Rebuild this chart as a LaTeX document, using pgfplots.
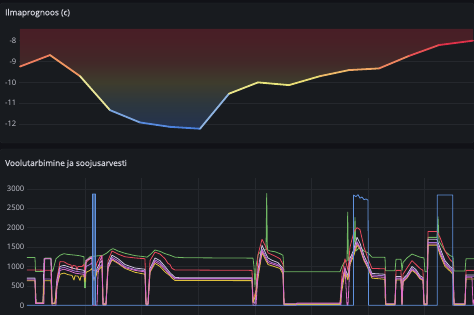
\documentclass[border=0pt]{standalone}
\usepackage{fontspec}
\setmainfont{Open Sans}
\newfontfamily\titlefont[FakeBold=0.6]{Open Sans}
\usepackage{pgfplots}
\pgfplotsset{compat=1.18}
\definecolor{pagebg}{HTML}{111217}
\definecolor{panelbg}{HTML}{181B1F}
\definecolor{panelborder}{HTML}{23262B}
\definecolor{gridc}{HTML}{25282D}
\definecolor{tickc}{HTML}{C8C9D3}
\definecolor{titlec}{HTML}{D4D5DE}
\definecolor{sgreen}{RGB}{112,184,100}
\definecolor{sred}{RGB}{232,72,92}
\definecolor{slav}{RGB}{205,192,222}
\definecolor{spurple}{RGB}{168,112,212}
\definecolor{syellow}{RGB}{222,192,60}
\definecolor{spink}{RGB}{222,110,200}
\definecolor{sblue}{RGB}{96,146,222}
\pgfdeclareverticalshading{tempfill}{100bp}{%
 rgb(0bp)=(0.137,0.196,0.314); rgb(25bp)=(0.137,0.196,0.314);
 rgb(37.8bp)=(0.176,0.216,0.243); rgb(48.2bp)=(0.243,0.235,0.176);
 rgb(58.7bp)=(0.259,0.157,0.157); rgb(69.1bp)=(0.282,0.125,0.149);
 rgb(75bp)=(0.282,0.118,0.149); rgb(100bp)=(0.282,0.118,0.149)}
\pgfplotsset{colormap={tempmap}{rgb255(0pt)=(70,125,220); rgb255(9.2pt)=(150,185,225);
 rgb255(17.2pt)=(235,230,150); rgb255(22.2pt)=(232,228,120); rgb255(28.2pt)=(240,170,100);
 rgb255(35.2pt)=(235,100,90); rgb255(42.2pt)=(220,40,70)}}
\begin{document}
\begin{tikzpicture}
\fill[pagebg] (0,0) rectangle (474pt,315pt);
\filldraw[fill=panelbg, draw=panelborder, rounded corners=2pt] (0.5pt,172pt) rectangle (473.5pt,312pt);
\filldraw[fill=panelbg, draw=panelborder, rounded corners=2pt] (0.5pt,-3pt) rectangle (473.5pt,166pt);
\node[anchor=base west, inner sep=0pt, text=titlec, font=\titlefont\fontsize{8.3}{10}\selectfont] at (5pt,299.7pt) {Ilmaprognoos (c)};
\node[anchor=base west, inner sep=0pt, text=titlec, font=\titlefont\fontsize{8.3}{10}\selectfont] at (5pt,149pt) {Voolutarbimine ja soojusarvesti};

\begin{axis}[at={(19pt,175pt)}, anchor=south west, scale only axis,
 width=455pt, height=111pt, xmin=19, xmax=474, ymin=-12.76, ymax=-7.44,
 axis line style={draw=none}, tick style={draw=none}, xtick=\empty,
 ytick={-12,-11,-10,-9,-8}, ymajorgrids, grid style={color=gridc, line width=0.6pt},
 yticklabel style={font=\fontsize{7.6}{8}\selectfont, text=tickc, inner sep=0pt, xshift=-2.5pt},
 /pgf/number format/assume math mode=true,
 colormap name=tempmap, point meta min=-12.22, point meta max=-8.0]
\addplot[draw=none, shade, shading=tempfill] coordinates {
 (20,-7.44) (20,-9.24) (50,-8.69) (80,-9.70) (110,-11.33) (140,-11.92) (170,-12.13)
 (200,-12.22) (229,-10.54) (258,-10.00) (289,-10.13) (320,-9.70) (349,-9.41)
 (379,-9.33) (409,-8.73) (439,-8.21) (473,-8.00) (473,-7.44)};
\addplot[mesh, point meta=y, line width=1.8pt, line cap=round, line join=round] coordinates {
 (20,-9.24) (50,-8.69) (80,-9.70) (110,-11.33) (140,-11.92) (170,-12.13)
 (200,-12.22) (229,-10.54) (258,-10.00) (289,-10.13) (320,-9.70) (349,-9.41)
 (379,-9.33) (409,-8.73) (439,-8.21) (473,-8.00)};
\end{axis}

\begin{axis}[at={(27pt,0pt)}, anchor=south west, scale only axis,
 width=447pt, height=137pt, xmin=27, xmax=474, ymin=-250, ymax=3280,
 axis line style={draw=none}, tick style={draw=none},
 xtick={85,141.6,198.2,254.8,311.4,368,424.6}, xticklabels={},
 ytick={0,500,1000,1500,2000,2500,3000}, xmajorgrids, ymajorgrids,
 grid style={color=gridc, line width=0.6pt},
 yticklabel style={font=\fontsize{7.6}{8}\selectfont, text=tickc, inner sep=0pt, xshift=-2.5pt},
 /pgf/number format/assume math mode=true, /pgf/number format/1000 sep={},
 every axis plot/.append style={line width=0.8pt, line join=round}]
% green
\addplot[sgreen] coordinates {
 (27,1230)(35,1230)(35.5,870)(44,870)(45,1220)(51,1220)(52,870)(53,900)(56,1200)(60,1290)
 (64,1330)(68,1310)(72,1300)(76,1290)(80,1275)(84,1250)(84.5,450)(85.5,450)(86,1150)
 (90,1250)(92,1260)(96,1270)(100,1280)(103,1290)(107,1350)(110,1420)(113,1460)(118,1400)
 (125,1340)(135,1280)(145,1250)(147,1240)(150,1300)(155,1425)(160,1390)(165,1330)
 (170,1290)(175,1240)(185,1225)(220,1220)(253,1215)(254,1000)(255,480)(256,1000)(258,1300)
 (262,1430)(266,1430)(266.7,2880)(267.4,1430)(270,1400)(275,1380)(280,1330)(283,1290)
 (284,866)(340,866)(342,1000)(344,1100)(347,1150)(347.7,2400)(348.4,1150)(350,1250)
 (354,1300)(355,2260)(356,1400)(360,1500)(364,1400)(368,1350)(372,1240)(385,1235)
 (385.5,890)(395,890)(396,1185)(401,1185)(402,890)(403,1100)(407,1220)(412,1320)(416,1280)
 (420,1240)(424,1220)(425,866)(427,866)(428,1750)(437,1750)(438,2280)(439,1650)(445,1400)
 (450,1280)(453,1250)(454,885)(465,885)(466,1200)(474,1200)};
% red
\addplot[sred] coordinates {
 (27,910)(35,910)(51,900)(52,60)(55,60)(57,700)(60,1125)(64,1120)(68,1060)(71,1040)(72,920)
 (73,1030)(76,1010)(77,900)(78,1000)(82,1000)(84,1050)(85,850)(86,1100)(90,1200)(92,1250)
 (93,900)(95,900)(97,1100)(100,1250)(102,1280)(103,50)(106,50)(108,1150)(112,1400)
 (118,1320)(125,1250)(135,1220)(145,1200)(146,40)(148,40)(150,1150)(155,1370)(160,1320)
 (165,1200)(168,1080)(170,1050)(172,950)(175,910)(252,900)(253,100)(256,400)(258,1300)
 (262,1700)(265,1550)(268,1350)(274,1280)(280,1200)(283,1050)(284,40)(340,40)(342,800)
 (345,1200)(348,900)(350,1500)(354,1900)(357,2000)(360,1950)(364,1500)(368,1200)(372,950)
 (385,940)(385.5,40)(395,40)(396,900)(401,900)(402,40)(403,800)(407,960)(412,1150)
 (416,1050)(420,950)(423,900)(424,40)(427,40)(428,1900)(437,1900)(440,1750)(445,1400)
 (450,1180)(453,1100)(454,40)(465,40)(466,900)(474,900)};
% lavender
\addplot[slav] coordinates {
 (27,700)(35,700)(36,60)(43,60)(44,1200)(51,1200)(52,50)(55,50)(57,650)(60,1000)(64,1030)
 (70,980)(75,940)(80,920)(84,900)(85,750)(86,1150)(90,1200)(92,1220)(93,700)(95,700)
 (97,950)(100,1100)(102,1150)(103,30)(106,30)(108,1050)(112,1290)(118,1200)(125,1050)
 (135,960)(145,930)(146,40)(148,40)(150,950)(155,1220)(160,1150)(165,1000)(170,840)
 (175,720)(180,710)(252,710)(253,100)(255,50)(258,900)(262,1550)(266,1320)(268,1220)
 (272,1160)(278,1100)(283,950)(284,30)(340,30)(342,550)(345,950)(348,750)(350,1200)
 (354,1450)(357,1750)(360,1600)(364,1280)(368,1060)(372,820)(385,800)(385.5,30)(395,30)
 (396,740)(401,740)(402,30)(403,680)(407,790)(412,1000)(416,920)(420,760)(423,720)(424,30)
 (427,30)(428,1700)(437,1700)(440,1480)(445,1150)(450,1000)(453,940)(454,30)(465,30)
 (466,780)(474,780)};
% purple
\addplot[spurple] coordinates {
 (27,680)(35,680)(36,60)(43,60)(44,680)(51,680)(52,50)(55,50)(57,600)(60,950)(64,980)
 (70,920)(75,880)(80,860)(84,850)(85,720)(86,1000)(90,1050)(92,1100)(93,700)(95,700)
 (97,900)(100,1000)(102,1050)(103,30)(106,30)(108,1000)(112,1237)(118,1150)(125,1000)
 (135,920)(145,890)(146,40)(148,40)(150,900)(155,1170)(160,1100)(165,950)(170,800)
 (175,700)(180,690)(252,690)(253,100)(255,50)(258,800)(262,1450)(266,1250)(268,1150)
 (272,1100)(278,1050)(283,900)(284,30)(340,30)(342,500)(345,900)(348,700)(350,1100)
 (354,1350)(357,1640)(360,1500)(364,1200)(368,1000)(372,780)(385,760)(385.5,30)(395,30)
 (396,700)(401,700)(402,30)(403,650)(407,750)(412,950)(416,880)(420,720)(423,680)(424,30)
 (427,30)(428,1620)(437,1620)(440,1400)(445,1100)(450,960)(453,900)(454,30)(465,30)
 (466,750)(474,750)};
% yellow
\addplot[syellow] coordinates {
 (27,630)(35,630)(36,60)(43,60)(44,630)(51,630)(52,40)(55,40)(57,500)(60,800)(64,830)
 (68,790)(72,770)(74,650)(75,760)(78,750)(80,640)(81,750)(84,760)(85,600)(86,850)(90,900)
 (92,950)(93,650)(95,650)(97,850)(100,950)(102,1000)(103,20)(106,20)(108,950)(112,1170)
 (118,1080)(125,950)(135,850)(145,800)(146,20)(148,20)(150,850)(155,1080)(160,1000)
 (165,860)(168,800)(170,760)(172,700)(175,640)(252,635)(253,60)(256,300)(258,700)
 (262,1350)(266,1150)(268,1050)(274,1000)(280,950)(283,800)(284,20)(340,20)(342,400)
 (345,850)(348,650)(350,1050)(354,1300)(357,1550)(360,1450)(364,1150)(368,950)(372,700)
 (385,670)(385.5,20)(395,20)(396,650)(401,650)(402,20)(403,600)(407,700)(412,900)
 (416,820)(420,680)(423,640)(424,20)(427,20)(428,1550)(437,1550)(440,1300)(445,1000)
 (450,880)(453,800)(454,20)(465,20)(466,680)(474,680)};
% pink
\addplot[spink] coordinates {
 (27,650)(35,650)(35.5,50)(44,50)(44.5,1200)(51,1200)(52,0)(56,0)(57,500)(60,900)(64,930)
 (70,880)(75,830)(80,810)(84,800)(85,700)(86,1150)(90,1220)(92,1250)(93,0)(97,0)(98,800)
 (100,1150)(102,1280)(103,0)(106,0)(108,950)(112,1200)(118,1100)(125,970)(135,900)
 (145,860)(146,0)(148,0)(150,880)(155,1130)(160,1050)(165,920)(170,780)(175,680)
 (252,680)(253,0)(256,0)(258,800)(262,1400)(266,1200)(268,1100)(274,1050)(280,1000)
 (283,850)(284,0)(296,0)(297,60)(340,60)(341,0)(342,600)(345,1000)(347,0)(348,0)
 (350,1100)(354,1400)(357,1600)(360,1480)(364,1180)(368,980)(372,740)(385,720)(386,0)
 (395,0)(396,680)(401,680)(402,0)(403,620)(407,720)(412,920)(416,850)(420,700)(423,660)
 (424,0)(427,0)(428,1580)(437,1580)(440,1350)(445,1050)(450,920)(453,850)(454,0)(465,0)
 (466,720)(472,720)(473,0)(474,150)};
% blue
\addplot[draw=none, fill=sblue, fill opacity=0.6] coordinates {
 (92.5,0)(92.5,2870)(95.5,2870)(95.5,0)};
\addplot[sblue] coordinates {
 (27,0)(92.5,0)(92.5,2870)(95.5,2870)(95.5,0)(353.5,0)(353.5,2840)(356,2800)(358,2850)
 (360,2760)(362,2790)(364,2720)(366,2740)(368,2710)(368.5,0)(437.3,0)(437.3,2840)
 (452.7,2840)(452.7,0)(474,0)};
\end{axis}
\pgfresetboundingbox
\useasboundingbox (0,0) rectangle (474pt,315pt);
\end{tikzpicture}
\end{document}
